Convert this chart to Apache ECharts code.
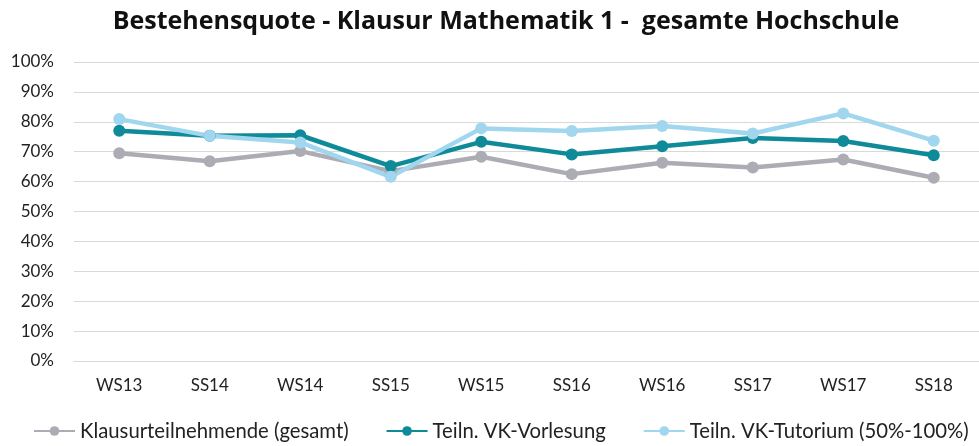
<!DOCTYPE html>
<html>
<head>
<meta charset="utf-8">
<script src="https://cdn.jsdelivr.net/npm/echarts@6/dist/echarts.min.js"></script>
<style>
  html, body { margin: 0; padding: 0; background: #fff; }
  #chart { width: 979px; height: 446px; }
</style>
</head>
<body>
<div id="chart"></div>
<script>
// Semesters on the x axis
const semesters = ['WS13', 'SS14', 'WS14', 'SS15', 'WS15', 'SS16', 'WS16', 'SS17', 'WS17', 'SS18'];

// Pass rates in percent
const klausurGesamt = [69.5, 66.8, 70.2, 63.5, 68.3, 62.5, 66.3, 64.7, 67.4, 61.3];
const vkVorlesung   = [77.0, 75.3, 75.5, 65.2, 73.3, 69.1, 71.8, 74.6, 73.6, 68.8];
const vkTutorium    = [80.9, 75.3, 73.1, 61.6, 77.8, 76.9, 78.6, 76.1, 82.8, 73.7];

const seriesNames = ['Klausurteilnehmende (gesamt)', 'Teiln. VK-Vorlesung', 'Teiln. VK-Tutorium (50%-100%)'];

const FONT = 'Lato, "Open Sans", sans-serif';

function lineSeries(name, data, color) {
  return {
    name: name,
    type: 'line',
    data: data,
    symbol: 'circle',
    symbolSize: 12,
    lineStyle: { width: 4.5, color: color },
    itemStyle: { color: color },
    emphasis: { disabled: true }
  };
}

const chart = echarts.init(document.getElementById('chart'), null, { renderer: 'canvas' });
chart.setOption({
  animation: false,
  title: {
    text: 'Bestehensquote - Klausur Mathematik 1 -  gesamte Hochschule',
    left: 501,
    top: 4,
    textAlign: 'center',
    textStyle: { fontFamily: '"Open Sans", sans-serif', fontWeight: 'bold', fontSize: 25, color: '#111' }
  },
  grid: { left: 74, right: -7, top: 62, bottom: 85, containLabel: false },
  legend: {
    top: 421,
    left: 33,
    width: 970,
    padding: 0,
    itemWidth: 41,
    itemHeight: 12,
    itemGap: 37,
    textStyle: { fontFamily: FONT, fontSize: 20.3, color: '#222' },
    data: seriesNames
  },
  xAxis: {
    type: 'category',
    data: semesters,
    boundaryGap: true,
    axisLine: { lineStyle: { color: '#d9d9d9', width: 1 } },
    axisTick: { show: false },
    axisLabel: { fontFamily: FONT, fontSize: 17, color: '#222', margin: 16 }
  },
  yAxis: {
    type: 'value',
    min: 0,
    max: 100,
    interval: 10,
    axisLine: { show: false },
    axisTick: { show: false },
    splitLine: { lineStyle: { color: '#d9d9d9', width: 1 } },
    axisLabel: { fontFamily: FONT, fontSize: 17, color: '#222', margin: 20, formatter: '{value}%' }
  },
  series: [
    lineSeries(seriesNames[0], klausurGesamt, '#acacb4'),
    lineSeries(seriesNames[1], vkVorlesung, '#0f8a98'),
    lineSeries(seriesNames[2], vkTutorium, '#a0d6ee')
  ]
});
</script>
</body>
</html>
